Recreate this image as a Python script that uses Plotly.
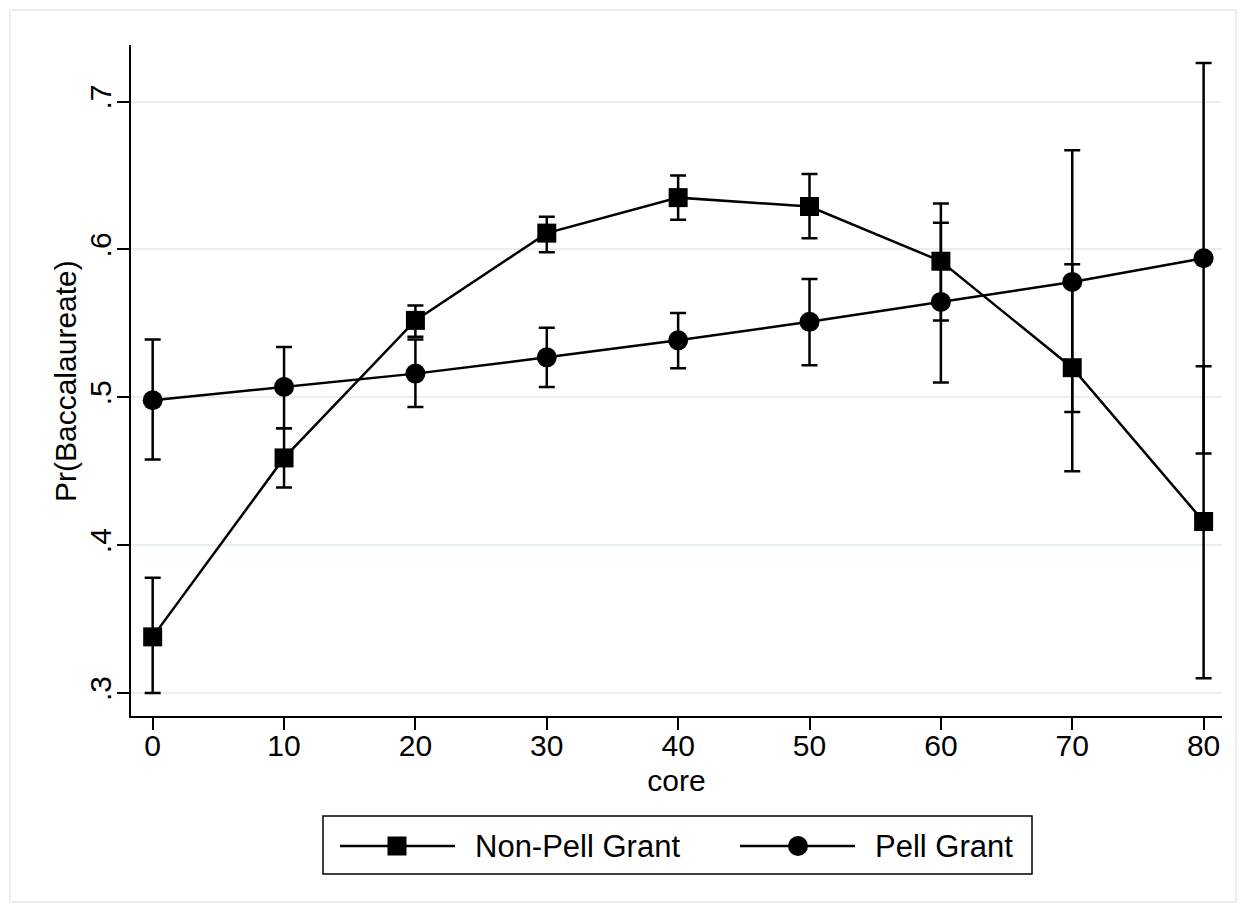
import plotly.graph_objects as go

core = [0, 10, 20, 30, 40, 50, 60, 70, 80]

nonpell = [0.338, 0.459, 0.552, 0.611, 0.635, 0.629, 0.592, 0.520, 0.416]
nonpell_lo = [0.300, 0.439, 0.541, 0.598, 0.620, 0.6075, 0.552, 0.450, 0.310]
nonpell_hi = [0.378, 0.479, 0.562, 0.622, 0.650, 0.651, 0.631, 0.590, 0.521]

pell = [0.498, 0.507, 0.516, 0.527, 0.5385, 0.551, 0.5645, 0.578, 0.594]
pell_lo = [0.458, 0.479, 0.4935, 0.507, 0.5196, 0.5216, 0.510, 0.490, 0.462]
pell_hi = [0.539, 0.534, 0.539, 0.547, 0.557, 0.580, 0.618, 0.667, 0.726]

ytick_vals = [0.3, 0.4, 0.5, 0.6, 0.7]
ytick_text = [".3", ".4", ".5", ".6", ".7"]
xtick_vals = [0, 10, 20, 30, 40, 50, 60, 70, 80]

series_names = ["Non-Pell Grant", "Pell Grant"]

FONT = "Liberation Sans, Arial, Helvetica, sans-serif"
BLACK = "#000000"
AX_SIZE = 30
LEG_SIZE = 31

fig = go.Figure()

def add_series(y, lo, hi, name, symbol, size):
    fig.add_trace(go.Scatter(
        x=core, y=y, name=name, mode="lines+markers",
        line=dict(color=BLACK, width=2.5),
        marker=dict(symbol=symbol, size=size, color=BLACK),
        error_y=dict(type="data", symmetric=False,
                     array=[h - v for h, v in zip(hi, y)],
                     arrayminus=[v - l for l, v in zip(lo, y)],
                     color=BLACK, thickness=2.5, width=8),
        showlegend=False,
    ))

add_series(nonpell, nonpell_lo, nonpell_hi, series_names[0], "square", 19)
add_series(pell, pell_lo, pell_hi, series_names[1], "circle", 20)

# page body has an 8px margin; work in screen pixels, convert to figure
OFF = 8
FIG_W, FIG_H = 1246 - OFF, 912 - OFF
# plot area in screen pixels
L, R, T, B = 131, 1222, 45, 716
W, H = R - L, B - T

def px(xp):
    return (xp - L) / W

def py(yp):
    return (B - yp) / H

shapes = []
# faint outer frame
shapes.append(dict(type="rect", xref="paper", yref="paper",
                   x0=px(10), x1=px(1236), y0=py(902), y1=py(10),
                   line=dict(color="#e3eaed", width=1.5), layer="below"))
# legend box
shapes.append(dict(type="rect", xref="paper", yref="paper",
                   x0=px(323), x1=px(1032), y0=py(874), y1=py(816),
                   line=dict(color=BLACK, width=1.5), fillcolor="white"))
ly = py(846)
# legend item 1
shapes.append(dict(type="line", xref="paper", yref="paper",
                   x0=px(340), x1=px(455), y0=ly, y1=ly,
                   line=dict(color=BLACK, width=2.5)))
shapes.append(dict(type="rect", xref="paper", yref="paper",
                   xsizemode="pixel", ysizemode="pixel",
                   xanchor=px(397), yanchor=ly,
                   x0=-9.5, x1=9.5, y0=-9.5, y1=9.5,
                   fillcolor=BLACK, line=dict(width=0)))
# legend item 2
shapes.append(dict(type="line", xref="paper", yref="paper",
                   x0=px(740), x1=px(855), y0=ly, y1=ly,
                   line=dict(color=BLACK, width=2.5)))
shapes.append(dict(type="circle", xref="paper", yref="paper",
                   xsizemode="pixel", ysizemode="pixel",
                   xanchor=px(798), yanchor=ly,
                   x0=-10, x1=10, y0=-10, y1=10,
                   fillcolor=BLACK, line=dict(width=0)))

annotations = [
    dict(text=series_names[0], xref="paper", yref="paper", x=px(473), y=ly,
         xanchor="left", yanchor="middle", showarrow=False,
         font=dict(family=FONT, size=LEG_SIZE, color=BLACK)),
    dict(text=series_names[1], xref="paper", yref="paper", x=px(873), y=ly,
         xanchor="left", yanchor="middle", showarrow=False,
         font=dict(family=FONT, size=LEG_SIZE, color=BLACK)),
    # y-axis title
    dict(text="Pr(Baccalaureate)", xref="paper", yref="paper", x=px(66), y=py(381),
         xanchor="center", yanchor="middle", textangle=-90, showarrow=False,
         font=dict(family=FONT, size=AX_SIZE, color=BLACK)),
]

fig.update_layout(
    width=FIG_W, height=FIG_H,
    margin=dict(l=L - OFF, r=FIG_W - (R - OFF), t=T - OFF, b=FIG_H - (B - OFF), pad=0),
    paper_bgcolor="white", plot_bgcolor="white",
    font=dict(family=FONT, color=BLACK),
    shapes=shapes, annotations=annotations,
    showlegend=False,
)

fig.update_xaxes(
    range=[-1.65, 81.4], tickvals=xtick_vals,
    ticks="outside", ticklen=12, tickwidth=1.5, tickcolor=BLACK,
    showline=True, linecolor=BLACK, linewidth=1.5,
    showgrid=False, zeroline=False,
    ticklabelstandoff=-10,
    tickfont=dict(family=FONT, size=AX_SIZE, color=BLACK),
    title=dict(text="core", font=dict(family=FONT, size=AX_SIZE, color=BLACK), standoff=9),
)
fig.update_yaxes(
    range=[0.2845, 0.7382], tickvals=ytick_vals, ticktext=ytick_text,
    tickangle=-90,
    ticks="outside", ticklen=12, tickwidth=1.5, tickcolor=BLACK,
    showline=True, linecolor=BLACK, linewidth=1.5,
    showgrid=True, gridcolor="#e6eff1", gridwidth=2, zeroline=False,
    ticklabelstandoff=-6,
    tickfont=dict(family=FONT, size=AX_SIZE, color=BLACK),
)

fig.write_html("out.html")
